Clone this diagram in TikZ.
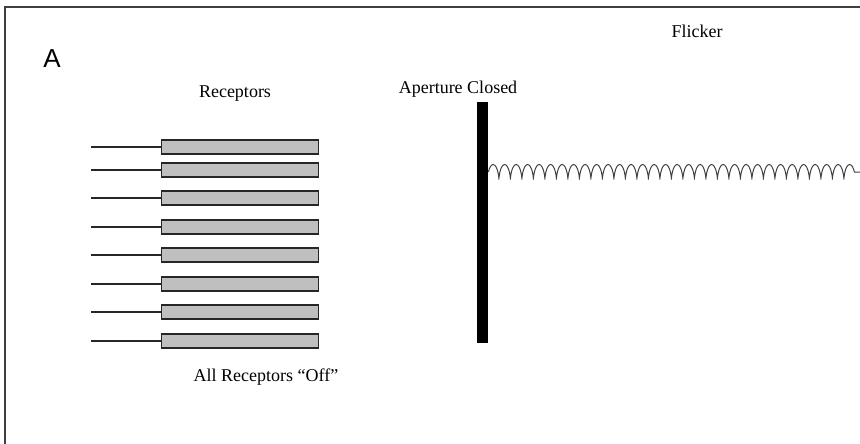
\documentclass[tikz,border=0pt]{standalone}
\usepackage{fontspec}
\setmainfont{Liberation Serif}
\newfontfamily\sansA{Liberation Sans}
\usetikzlibrary{decorations.pathmorphing}

\begin{document}
\begin{tikzpicture}
		[
		x=1pt, y=-1pt, font=\fontsize{18}{20}\selectfont,
		%Voreinstellungen
		rezeptor/.style={draw=black!85, line width=1.4pt, fill=black!25, minimum width=157pt, minimum height=14pt, inner sep=0pt, anchor=west},
		beschriftung/.style={anchor=base}
		]
		
		\useasboundingbox (0,0) rectangle (860,444);
		
		%Rahmen (nur links und oben sichtbar)
		\draw[black!75, line width=1.4pt] (5,444) -- (5,7) -- (860,7);
		
		%Beschriftungen
		\node[beschriftung] (labA) at (52,67) {\sansA\fontsize{26}{28}\selectfont A};
		\node[beschriftung] (labRez) at (235,97) {Receptors};
		\node[beschriftung] (labBlende) at (458,93) {Aperture Closed};
		\node[beschriftung] (labFlicker) at (697,38) {Flicker};
		\node[beschriftung] (labAus) at (266,381) {All Receptors ``Off''};
		
		%Rezeptoren mit Leitungen
		\foreach \y/\i in {147/1,170/2,198/3,227/4,255/5,284/6,312/7,341/8}
		{
		\node[rezeptor] (r\i) at (161,\y) {};
		\coordinate (l\i) at (91,\y);
		\draw[black!85, line width=1.2pt] (l\i) -- (r\i.west);
		}
		
		%Blende (geschlossen)
		\node[fill=black, minimum width=11pt, minimum height=241pt, inner sep=0pt, anchor=north west] (blende) at (477,102) {};
		
		%Flackerndes Licht
		\coordinate (lichtEnde) at (860,172);
		\draw[black!75, line width=1pt, decorate, decoration={coil, amplitude=7.5pt, aspect=0.25, segment length=11.5pt}] (blende.east |- lichtEnde) -- (lichtEnde);
		
\end{tikzpicture}
\end{document}
